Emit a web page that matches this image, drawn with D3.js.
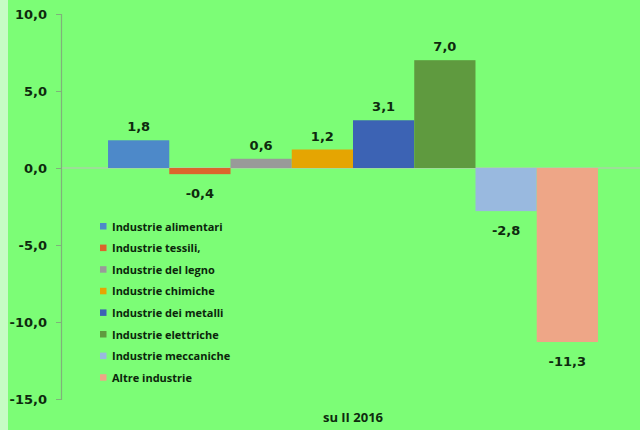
<!DOCTYPE html>
<html><head><meta charset="utf-8">
<script src="https://cdn.jsdelivr.net/npm/d3@7"></script>
<style>html,body{margin:0;padding:0;background:#7cfd76;}svg{display:block;}</style>
</head><body>
<script>
const categories = ["su II 2016"];
const series = ["Industrie alimentari","Industrie tessili,","Industrie del legno","Industrie chimiche","Industrie dei metalli","Industrie elettriche","Industrie meccaniche","Altre industrie"];
const values = [1.8, -0.4, 0.6, 1.2, 3.1, 7.0, -2.8, -11.3];
const colors = ["#4d89c9","#dc652c","#999a99","#e5a502","#3c63b4","#5f9a3f","#99b9df","#eea687"];
const yTicks = [10, 5, 0, -5, -10, -15];

const W = 640, H = 430;
const svg = d3.select("body").append("svg").attr("width", W).attr("height", H);
svg.append("rect").attr("width", W).attr("height", H).attr("fill", "#7cfd76");
svg.append("rect").attr("width", 8).attr("height", H).attr("fill", "#c6fcc4");

const y = d3.scaleLinear().domain([-15, 10]).range([399, 14]);
const x0 = d3.scaleBand().domain(categories).range([61, 645]).paddingInner(0).paddingOuter(0.096);
const x1 = d3.scaleBand().domain(series).range([0, x0.bandwidth()]).padding(0);
const fmt = v => d3.format(".1f")(v).replace(".", ",").replace("−", "-");

// zero line
svg.append("line").attr("x1", 61).attr("x2", W).attr("y1", y(0)).attr("y2", y(0))
  .attr("stroke", "#a9d4a4").attr("stroke-width", 1.5);

// axis
const ax = svg.append("g").attr("transform", "translate(61,0)")
  .call(d3.axisLeft(y).tickValues(yTicks).tickSize(5).tickPadding(9).tickFormat(fmt));
ax.select(".domain").attr("stroke", "#7fb27a").attr("stroke-width", 1.2);
ax.selectAll(".tick line").attr("stroke", "#7fb27a");
ax.selectAll(".tick text").attr("fill", "#0e2a0e").style("font-family", "DejaVu Sans").style("font-weight", "bold").style("font-size", "13px");

// bars
const g = svg.append("g");
categories.forEach(cat => {
  const gg = g.append("g").attr("transform", `translate(${x0(cat)},0)`);
  gg.selectAll("rect").data(values).join("rect")
    .attr("x", (d, i) => x1(series[i]))
    .attr("width", x1.bandwidth())
    .attr("y", d => y(Math.max(0, d)))
    .attr("height", d => Math.abs(y(d) - y(0)))
    .attr("fill", (d, i) => colors[i]);
  gg.selectAll("text").data(values).join("text")
    .attr("x", (d, i) => x1(series[i]) + x1.bandwidth() / 2)
    .attr("y", d => d >= 0 ? y(d) - 9 : y(d) + 24)
    .attr("text-anchor", "middle")
    .attr("fill", "#0e2a0e")
    .style("font-family", "DejaVu Sans").style("font-weight", "bold").style("font-size", "13px")
    .text(d => fmt(d));
});

// category label
svg.append("text").attr("x", x0(categories[0]) + x0.bandwidth() / 2).attr("y", 422)
  .attr("text-anchor", "middle").attr("fill", "#0e2a0e")
  .style("font-family", "Open Sans").style("font-weight", "bold").style("font-size", "13px")
  .text(categories[0]);

// legend
const lg = svg.append("g").attr("transform", "translate(100,226)");
series.forEach((s, i) => {
  const row = lg.append("g").attr("transform", `translate(0,${i * 21.6})`);
  row.append("rect").attr("x", 0).attr("y", -3).attr("width", 6.5).attr("height", 6.5).attr("fill", colors[i]);
  row.append("text").attr("x", 12).attr("y", 4.5).attr("fill", "#0b260b")
    .style("font-family", "Open Sans").style("font-weight", "bold").style("font-size", "11px").text(s);
});
</script>
</body></html>
